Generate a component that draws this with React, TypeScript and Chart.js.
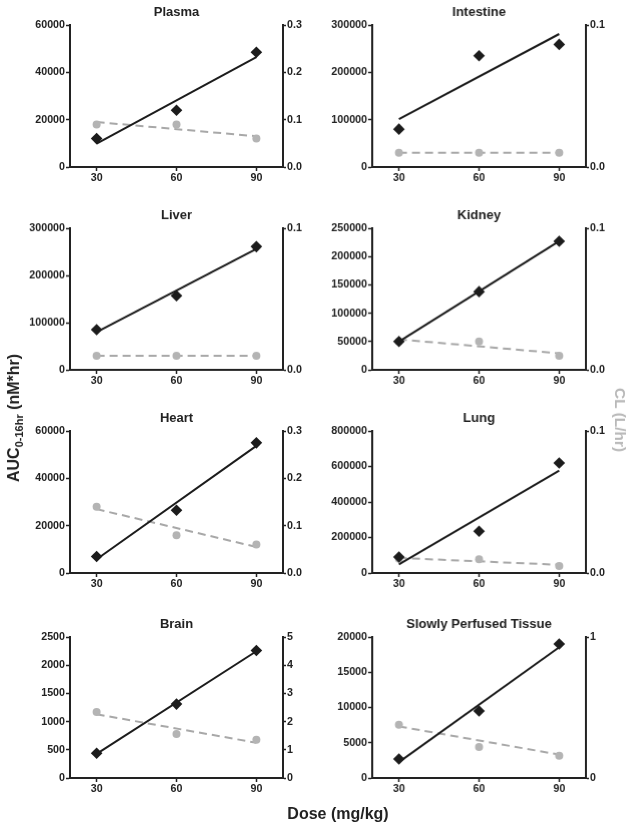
import React, { useEffect, useRef } from "react";
import { Chart, registerables } from "chart.js";

Chart.register(...registerables);

// ---------- DATA ----------
const doses = [30, 60, 90];
const fitDoses = [30, 90];

const panelTitles = ["Plasma", "Intestine", "Liver", "Kidney", "Heart", "Lung", "Brain", "Slowly Perfused Tissue"];

// AUC (diamonds) per panel
const aucPlasma = [12000, 24000, 48500];
const aucIntestine = [80000, 235000, 259000];
const aucLiver = [85000, 157000, 261000];
const aucKidney = [50000, 138000, 227000];
const aucHeart = [7000, 26500, 55000];
const aucLung = [90000, 235000, 620000];
const aucBrain = [440, 1310, 2260];
const aucSlow = [2700, 9500, 19000];

// AUC fitted line end points (at 30 and 90)
const aucFitPlasma = [9900, 46400];
const aucFitIntestine = [101000, 281000];
const aucFitLiver = [80000, 256000];
const aucFitKidney = [50000, 227000];
const aucFitHeart = [5800, 53700];
const aucFitLung = [49000, 577000];
const aucFitBrain = [427, 2247];
const aucFitSlow = [2260, 18540];

// CL (grey circles) per panel
const clPlasma = [0.09, 0.09, 0.06];
const clIntestine = [0.01, 0.01, 0.01];
const clLiver = [0.01, 0.01, 0.01];
const clKidney = [0.02, 0.02, 0.01];
const clHeart = [0.14, 0.08, 0.06];
const clLung = [0.01, 0.0097, 0.005];
const clBrain = [2.34, 1.56, 1.36];
const clSlow = [0.378, 0.22, 0.158];

// CL fitted dashed line end points (at 30 and 90)
const clFitPlasma = [0.095, 0.065];
const clFitIntestine = [0.01, 0.01];
const clFitLiver = [0.01, 0.01];
const clFitKidney = [0.0215, 0.0117];
const clFitHeart = [0.135, 0.055];
const clFitLung = [0.0106, 0.0058];
const clFitBrain = [2.26, 1.25];
const clFitSlow = [0.366, 0.166];

// axis ranges / ticks
const leftMax = [60000, 300000, 300000, 250000, 60000, 800000, 2500, 20000];
const leftStep = [20000, 100000, 100000, 50000, 20000, 200000, 500, 5000];
const rightMax = [0.3, 0.1, 0.1, 0.1, 0.3, 0.1, 5, 1];
const rightStep = [0.1, 0.1, 0.1, 0.1, 0.1, 0.1, 1, 1];
const rightDecimals = [1, 1, 1, 1, 1, 1, 0, 0];
const xTicks = [30, 60, 90];

const aucSeries = [aucPlasma, aucIntestine, aucLiver, aucKidney, aucHeart, aucLung, aucBrain, aucSlow];
const aucFits = [aucFitPlasma, aucFitIntestine, aucFitLiver, aucFitKidney, aucFitHeart, aucFitLung, aucFitBrain, aucFitSlow];
const clSeries = [clPlasma, clIntestine, clLiver, clKidney, clHeart, clLung, clBrain, clSlow];
const clFits = [clFitPlasma, clFitIntestine, clFitLiver, clFitKidney, clFitHeart, clFitLung, clFitBrain, clFitSlow];

// ---------- LAYOUT ----------
const FONT = '"Liberation Sans", Arial, Helvetica, sans-serif';
const INK = "#222222";
const GREY = "#b4b4b4";
const rowTops = [25, 228, 431, 637];
const rowBottoms = [167, 369.5, 573, 778];
const colCanvasLeft = [0, 315];
const colPlotLeft = [70, 372];
const colPlotRight = [283, 585.5];
const TOP_PAD = 30;
const X_AXIS_H = 28;
const RIGHT_AXIS_W = 32;

const titlePlugin = {
  id: "panelTitle",
  afterDraw(chart: any, _args: any, opts: any) {
    const { ctx, chartArea } = chart;
    ctx.save();
    ctx.font = `bold 13px ${FONT}`;
    ctx.fillStyle = INK;
    ctx.textAlign = "center";
    ctx.textBaseline = "middle";
    ctx.fillText(opts.text, (chartArea.left + chartArea.right) / 2, chartArea.top - 13);
    ctx.restore();
  },
};

function Panel({ idx }: { idx: number }) {
  const ref = useRef<HTMLCanvasElement | null>(null);
  const col = idx % 2;
  const row = Math.floor(idx / 2);
  const canvasLeft = colCanvasLeft[col];
  const canvasTop = rowTops[row] - TOP_PAD;
  const leftW = colPlotLeft[col] - canvasLeft;
  const width = colPlotRight[col] - canvasLeft + RIGHT_AXIS_W;
  const height = rowBottoms[row] - rowTops[row] + TOP_PAD + X_AXIS_H;

  useEffect(() => {
    if (!ref.current) return;
    const tickFont = { family: FONT, size: 10.7, weight: "bold" as const };
    const axisCommon = {
      grid: { drawOnChartArea: false, drawTicks: true, tickLength: 4, color: INK, tickColor: INK, tickWidth: 1.5 },
      border: { display: true, color: INK, width: 2 },
    };
    const chart = new Chart(ref.current, {
      type: "scatter",
      data: {
        datasets: [
          {
            data: doses.map((x, i) => ({ x, y: aucSeries[idx][i] })),
            yAxisID: "y",
            pointStyle: "rectRot",
            pointRadius: 5.8,
            backgroundColor: "#1c1c1c",
            borderColor: "#1c1c1c",
            borderWidth: 0,
            showLine: false,
            order: 0,
          },
          {
            data: fitDoses.map((x, i) => ({ x, y: aucFits[idx][i] })),
            yAxisID: "y",
            showLine: true,
            borderColor: "#1c1c1c",
            borderWidth: 2,
            pointRadius: 0,
            order: 1,
          },
          {
            data: doses.map((x, i) => ({ x, y: clSeries[idx][i] })),
            yAxisID: "y1",
            pointStyle: "circle",
            pointRadius: 4,
            backgroundColor: GREY,
            borderColor: GREY,
            borderWidth: 0,
            showLine: false,
            order: 2,
          },
          {
            data: fitDoses.map((x, i) => ({ x, y: clFits[idx][i] })),
            yAxisID: "y1",
            showLine: true,
            borderColor: "#a8a8a8",
            borderWidth: 2,
            borderDash: [8, 5],
            pointRadius: 0,
            order: 3,
          },
        ],
      } as any,
      options: {
        animation: false,
        responsive: false,
        maintainAspectRatio: false,
        events: [],
        layout: { padding: { top: TOP_PAD, left: 0, right: 0, bottom: 0 } },
        plugins: {
          legend: { display: false },
          tooltip: { enabled: false },
          title: { display: false },
          panelTitle: { text: panelTitles[idx] },
        } as any,
        scales: {
          x: {
            type: "linear",
            position: "bottom",
            min: 20,
            max: 100,
            afterBuildTicks: (s: any) => {
              s.ticks = xTicks.map((v) => ({ value: v }));
            },
            afterFit: (s: any) => {
              s.height = X_AXIS_H;
            },
            ticks: { font: tickFont, color: INK, padding: 1, maxRotation: 0, autoSkip: false },
            ...axisCommon,
          },
          y: {
            type: "linear",
            position: "left",
            min: 0,
            max: leftMax[idx],
            afterFit: (s: any) => {
              s.width = leftW;
            },
            ticks: {
              stepSize: leftStep[idx],
              font: tickFont,
              color: INK,
              padding: 1,
              callback: (v: any) => String(v),
            },
            ...axisCommon,
          },
          y1: {
            type: "linear",
            position: "right",
            min: 0,
            max: rightMax[idx],
            afterFit: (s: any) => {
              s.width = RIGHT_AXIS_W;
            },
            ticks: {
              stepSize: rightStep[idx],
              font: tickFont,
              color: INK,
              padding: 1,
              callback: (v: any) => Number(v).toFixed(rightDecimals[idx]),
            },
            ...axisCommon,
            grid: { ...axisCommon.grid, tickLength: 3 },
          },
        },
      } as any,
      plugins: [titlePlugin as any],
    });
    return () => chart.destroy();
  }, [idx]);

  return (
    <canvas
      ref={ref}
      width={width}
      height={height}
      style={{ position: "absolute", left: canvasLeft, top: canvasTop, width, height }}
    />
  );
}

export default function App() {
  return (
    <div
      style={{
        position: "absolute",
        left: 0,
        top: 0,
        width: 635,
        height: 829,
        background: "#ffffff",
        overflow: "hidden",
        fontFamily: FONT,
      }}
    >
      {panelTitles.map((_, i) => (
        <Panel key={i} idx={i} />
      ))}
      <div
        style={{
          position: "absolute",
          left: 14,
          top: 418,
          transform: "translate(-50%, -50%) rotate(-90deg)",
          whiteSpace: "nowrap",
          fontWeight: "bold",
          fontSize: 16,
          color: INK,
          lineHeight: "18px",
        }}
      >
        AUC<sub style={{ fontSize: 11, verticalAlign: "-4px", lineHeight: 0 }}>0-16hr</sub> (nM*hr)
      </div>
      <div
        style={{
          position: "absolute",
          left: 620,
          top: 420,
          transform: "translate(-50%, -50%) rotate(90deg)",
          whiteSpace: "nowrap",
          fontWeight: "bold",
          fontSize: 15.5,
          color: "#b8b8b8",
          lineHeight: "18px",
        }}
      >
        CL (L/hr)
      </div>
      <div
        style={{
          position: "absolute",
          left: 338,
          top: 814,
          transform: "translate(-50%, -50%)",
          whiteSpace: "nowrap",
          fontWeight: "bold",
          fontSize: 16,
          color: INK,
          lineHeight: "18px",
        }}
      >
        Dose (mg/kg)
      </div>
    </div>
  );
}
